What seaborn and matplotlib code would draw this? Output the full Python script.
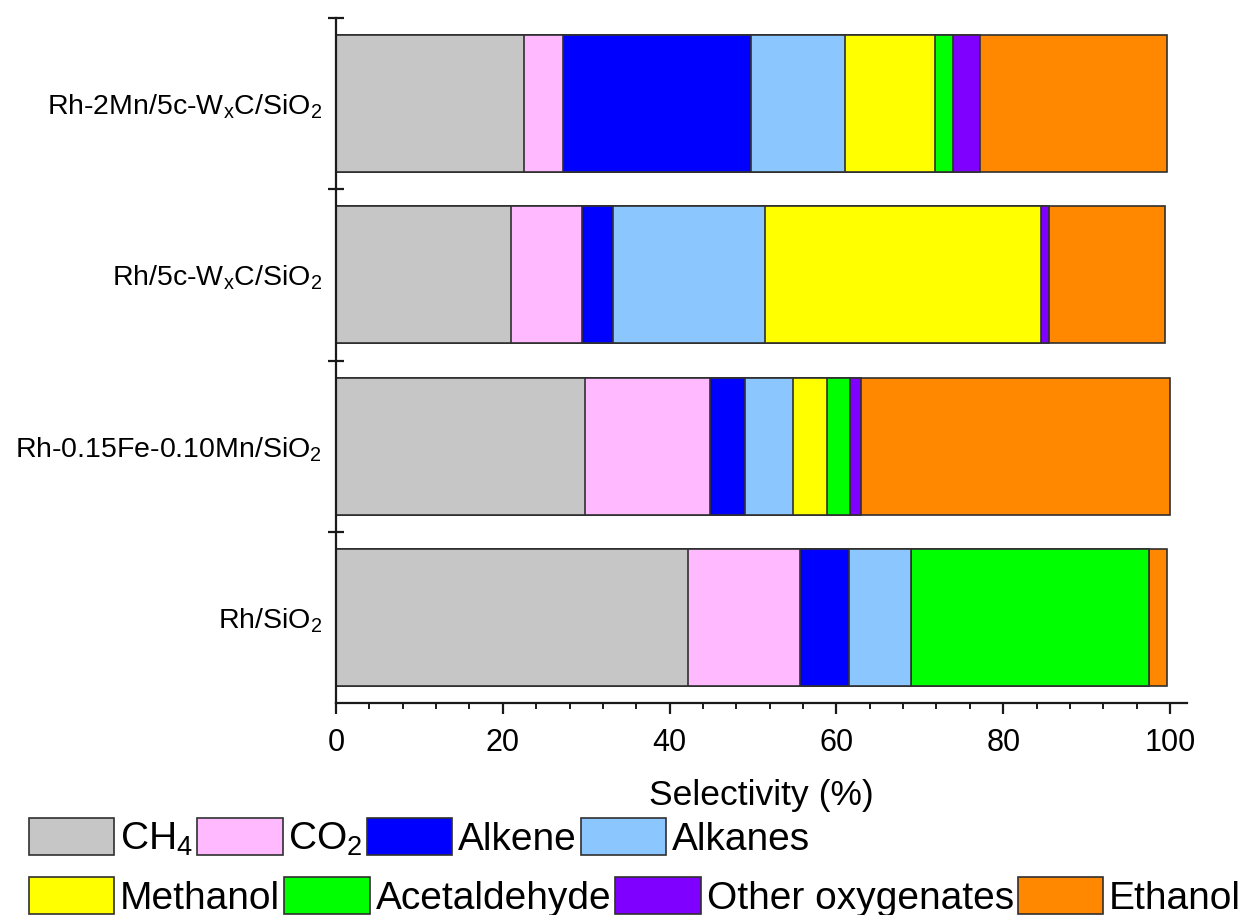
import numpy as np
import pandas as pd
import matplotlib
matplotlib.use("Agg")
import matplotlib.pyplot as plt
from matplotlib.patches import Patch
from matplotlib.ticker import MultipleLocator, FixedLocator
import seaborn as sns

# Catalysts (top to bottom) and product selectivities (%)
catalysts = [
    r"Rh-2Mn/5c-W$_\mathregular{x}$C/SiO$_\mathregular{2}$",
    r"Rh/5c-W$_\mathregular{x}$C/SiO$_\mathregular{2}$",
    r"Rh-0.15Fe-0.10Mn/SiO$_\mathregular{2}$",
    r"Rh/SiO$_\mathregular{2}$",
]
products = ["CH4", "CO2", "Alkene", "Alkanes", "Methanol",
            "Acetaldehyde", "Other oxygenates", "Ethanol"]
product_labels = [r"CH$_\mathregular{4}$", r"CO$_\mathregular{2}$", "Alkene", "Alkanes",
                  "Methanol", "Acetaldehyde", "Other oxygenates", "Ethanol"]

ch4 = [22.5, 21.0, 29.8, 42.2]
co2 = [4.7, 8.5, 15.0, 13.4]
alkene = [22.5, 3.7, 4.2, 5.9]
alkanes = [11.3, 18.2, 5.8, 7.4]
methanol = [10.8, 33.1, 4.1, 0.0]
acetaldehyde = [2.2, 0.0, 2.7, 28.6]
other_oxygenates = [3.2, 1.0, 1.4, 0.0]
ethanol = [22.4, 13.9, 37.0, 2.2]

colors = ["#C6C6C6", "#FFB9FF", "#0000FF", "#8CC6FF",
          "#FFFF00", "#00FF00", "#8000FF", "#FF8800"]

df = pd.DataFrame({
    "catalyst": catalysts,
    "CH4": ch4, "CO2": co2, "Alkene": alkene, "Alkanes": alkanes,
    "Methanol": methanol, "Acetaldehyde": acetaldehyde,
    "Other oxygenates": other_oxygenates, "Ethanol": ethanol,
})
cum = df[products].cumsum(axis=1)
cum["catalyst"] = df["catalyst"]

sns.set_theme(style="white")
plt.rcParams["font.family"] = ["Liberation Sans", "DejaVu Sans"]
plt.rcParams["mathtext.fontset"] = "custom"
plt.rcParams["mathtext.rm"] = "Liberation Sans"
plt.rcParams["mathtext.it"] = "Liberation Sans"
plt.rcParams["text.color"] = "black"
plt.rcParams["axes.labelcolor"] = "black"
plt.rcParams["xtick.color"] = "black"
plt.rcParams["ytick.color"] = "black"

fig = plt.figure(figsize=(12.54, 9.15), dpi=100)
ax = fig.add_axes([0.268, 0.2317, 0.6783, 0.7486])

edge = "#303030"
axis_col = "#1a1a1a"
# stacked bars: draw cumulative totals from the outermost layer inwards
for prod, col in reversed(list(zip(products, colors))):
    sns.barplot(data=cum, x=prod, y="catalyst", orient="h", color=col,
                saturation=1, width=0.8, edgecolor=edge, linewidth=1.2,
                order=catalysts, ax=ax)

ax.set_xlim(0, 102)
ax.set_ylim(3.5, -0.5)

for s in ["top", "right"]:
    ax.spines[s].set_visible(False)
for s in ["left", "bottom"]:
    ax.spines[s].set_linewidth(1.6)
    ax.spines[s].set_color(axis_col)

# x ticks
ax.xaxis.set_major_locator(MultipleLocator(20))
ax.xaxis.set_minor_locator(MultipleLocator(4))
ax.tick_params(axis="x", which="major", direction="out", length=8, width=1.6,
               color=axis_col, labelsize=22, pad=10, bottom=True)
ax.tick_params(axis="x", which="minor", direction="out", length=4, width=1.4,
               color=axis_col, bottom=True)

# y ticks at the category boundaries, labels at the bar centers
ax.yaxis.set_major_locator(FixedLocator([-0.5, 0.5, 1.5, 2.5]))
ax.yaxis.set_minor_locator(FixedLocator([0, 1, 2, 3]))
ax.set_yticklabels([], minor=False)
ax.set_yticklabels(catalysts, minor=True)
ax.tick_params(axis="y", which="major", direction="inout", length=12, width=1.6,
               color=axis_col, left=True)
ax.tick_params(axis="y", which="minor", length=0, labelsize=20.5, pad=10, left=True)

ax.set_ylabel("")
ax.set_xlabel("Selectivity (%)", fontsize=25.5, labelpad=15)

handles = [Patch(facecolor=c, edgecolor=edge, linewidth=1.2) for c in colors]
common = dict(frameon=False, fontsize=28, handlelength=2.2, handleheight=1.08,
              handletextpad=0.15, columnspacing=0.1, borderpad=0, borderaxespad=0,
              loc="center left")
leg1 = fig.legend(handles[:4], product_labels[:4], ncol=4,
                  bbox_to_anchor=(0.023, 0.084), **common)
leg2 = fig.legend(handles[4:], product_labels[4:], ncol=4,
                  bbox_to_anchor=(0.023, 0.020), **common)

fig.savefig("out.png", dpi=100)
